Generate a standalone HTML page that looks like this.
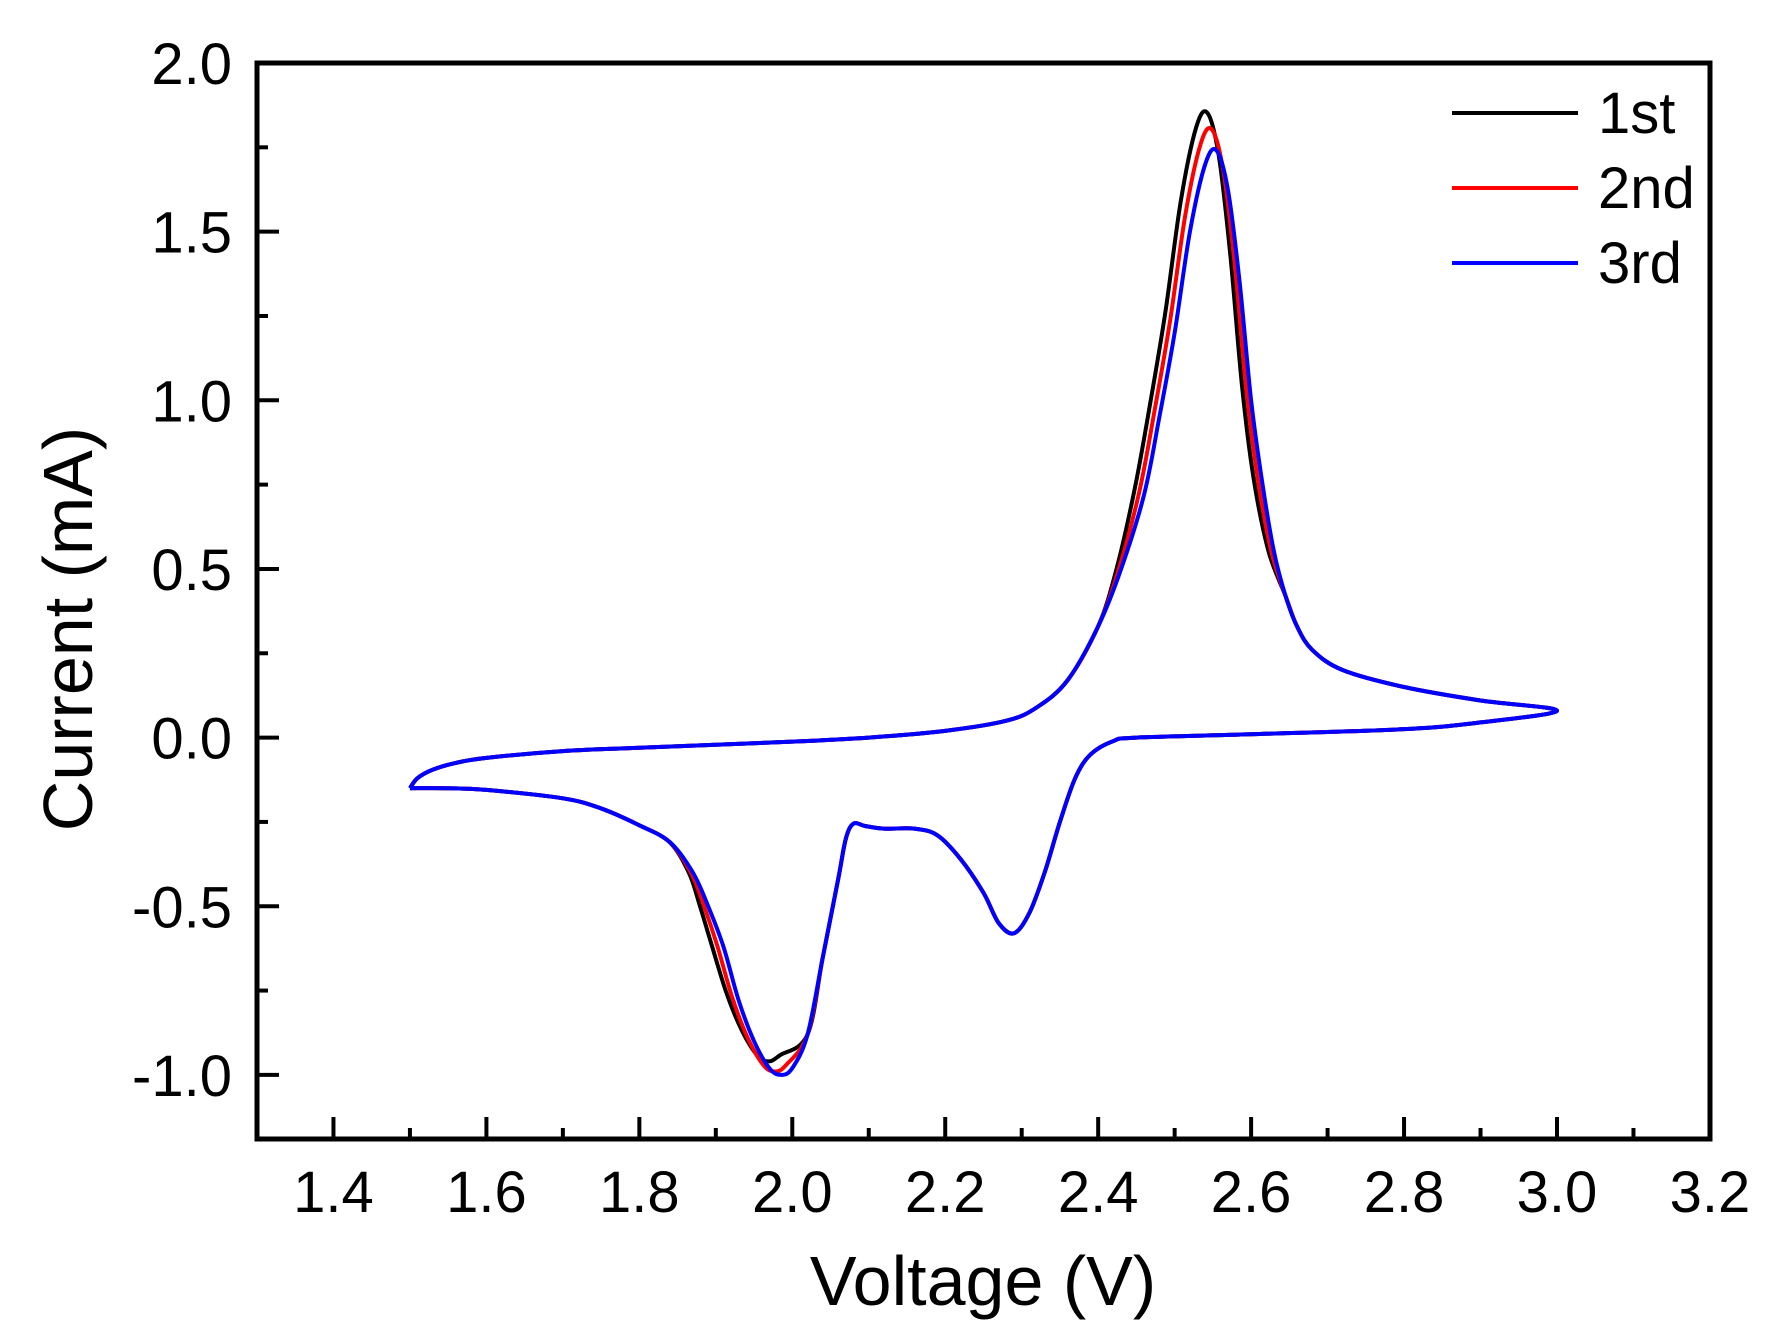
<!DOCTYPE html>
<html><head><meta charset="utf-8"><style>
html,body{margin:0;padding:0;background:#fff;}
svg{display:block;}
text{font-family:"Liberation Sans",Arial,sans-serif;fill:#000;}
</style></head><body>
<svg id="s" width="1775" height="1335" viewBox="0 0 1775 1335" xmlns="http://www.w3.org/2000/svg">
<g id="curves" fill="none" stroke-width="4" stroke-linejoin="round"></g>
<rect x="257" y="63" width="1453" height="1076" fill="none" stroke="#000" stroke-width="5"/>
<g id="ticks" stroke="#000" stroke-width="4"></g>
<g id="labels" font-size="58"></g>
<text x="983" y="1305" font-size="70" text-anchor="middle">Voltage (V)</text>
<text transform="translate(92,629) rotate(-90)" font-size="70" text-anchor="middle">Current (mA)</text>
<g stroke-width="4">
<line x1="1452" y1="113" x2="1578" y2="113" stroke="#000"/>
<line x1="1452" y1="188" x2="1578" y2="188" stroke="#f00"/>
<line x1="1452" y1="263" x2="1578" y2="263" stroke="#00f"/>
</g>
<g font-size="58">
<text x="1598" y="133">1st</text>
<text x="1598" y="208">2nd</text>
<text x="1598" y="283">3rd</text>
</g>
</svg>
<script>
var NS="http://www.w3.org/2000/svg";
function X(v){return 257+(v-1.3)*764.7;}
function Y(v){return 63+(2-v)*337.3;}
var tk=document.getElementById('ticks'),lb=document.getElementById('labels');
function el(p,t,a,txt){var e=document.createElementNS(NS,t);for(var k in a)e.setAttribute(k,a[k]);if(txt)e.textContent=txt;p.appendChild(e);return e;}
for(var i=0;i<=19;i++){var v=1.3+i*0.1,x=X(v),maj=(i%2==1);
 el(tk,'line',{x1:x,y1:1139,x2:x,y2:1139-(maj?22:11)});
 if(maj)el(lb,'text',{x:x,y:1212,'text-anchor':'middle'},v.toFixed(1));}
for(var i=0;i<=12;i++){var v=2-i*0.25,y=Y(v),maj=(i%2==0);
 el(tk,'line',{x1:257,y1:y,x2:257+(maj?22:11),y2:y});
 if(maj)el(lb,'text',{x:232,y:y+21,'text-anchor':'end'},v.toFixed(1));}
var fwd=[[1.5,-0.15],[1.51,-0.12],[1.53,-0.095],[1.56,-0.075],[1.6,-0.06],[1.7,-0.04],[1.8,-0.03],[2.0,-0.012],[2.1,0.0],[2.2,0.02],[2.28,0.05],[2.32,0.09],[2.36,0.17],[2.4,0.33],[2.43,0.5],[2.46,0.72],[2.48,0.95],[2.5,1.2],[2.52,1.5],[2.54,1.7],[2.555,1.74],[2.57,1.62],[2.585,1.35],[2.6,1.0],[2.615,0.75],[2.63,0.55],[2.645,0.42],[2.66,0.33],[2.68,0.26],[2.72,0.2],[2.8,0.15],[2.9,0.11],[3.0,0.08]];
var rev=[[3.0,0.08],[2.9,0.045],[2.8,0.025],[2.6,0.01],[2.45,0.0],[2.42,-0.01],[2.39,-0.05],[2.37,-0.12],[2.35,-0.25],[2.33,-0.4],[2.31,-0.52],[2.29,-0.58],[2.27,-0.55],[2.25,-0.46],[2.22,-0.36],[2.19,-0.29],[2.16,-0.27],[2.12,-0.27],[2.095,-0.262],[2.08,-0.255],[2.07,-0.3],[2.06,-0.42],[2.04,-0.65],[2.02,-0.88],[2.0,-0.98],[1.985,-1.0],[1.97,-0.98],[1.95,-0.9],[1.93,-0.78],[1.91,-0.62],[1.89,-0.5],[1.87,-0.4],[1.84,-0.31],[1.8,-0.26],[1.75,-0.21],[1.7,-0.18],[1.6,-0.155],[1.55,-0.15],[1.5,-0.15]];
function mk(ps,pk,dxr,sc){
 var f=fwd.map(function(p){var x=p[0],y=p[1];if(x>2.41&&x<2.64){x-=ps*Math.min(1,(y-0.3)/0.4>0?(y-0.3)/0.4:0);if(y>0.5)y=0.5+(y-0.5)*pk;}return [x,y];});
 var r=rev.map(function(p){var x=p[0],y=p[1];if(x>1.83&&x<2.02){x-=dxr*Math.min(1,Math.max(0,(-y-0.3)/0.3));if(y<-0.5)y=-0.5+(y+0.5)*sc;}return [x,y];});
 return f.concat(r.slice(1));}
function path(pts){var P=pts.map(function(p){return [X(p[0]),Y(p[1])];});var d='M'+P[0][0]+','+P[0][1];
 for(var i=0;i<P.length-1;i++){var p0=P[Math.max(0,i-1)],p1=P[i],p2=P[i+1],p3=P[Math.min(P.length-1,i+2)];
 d+=' C'+(p1[0]+(p2[0]-p0[0])/6)+','+(p1[1]+(p2[1]-p0[1])/6)+' '+(p2[0]-(p3[0]-p1[0])/6)+','+(p2[1]-(p3[1]-p1[1])/6)+' '+p2[0]+','+p2[1];}return d;}
var g=document.getElementById('curves');
el(g,'path',{d:path(mk(0.012,1.09,0.016,0.92)),stroke:'#000'});
el(g,'path',{d:path(mk(0.006,1.05,0.008,0.98)),stroke:'#f00'});
el(g,'path',{d:path(mk(0,1,0,1)),stroke:'#00f'});
</script>
</body></html>
